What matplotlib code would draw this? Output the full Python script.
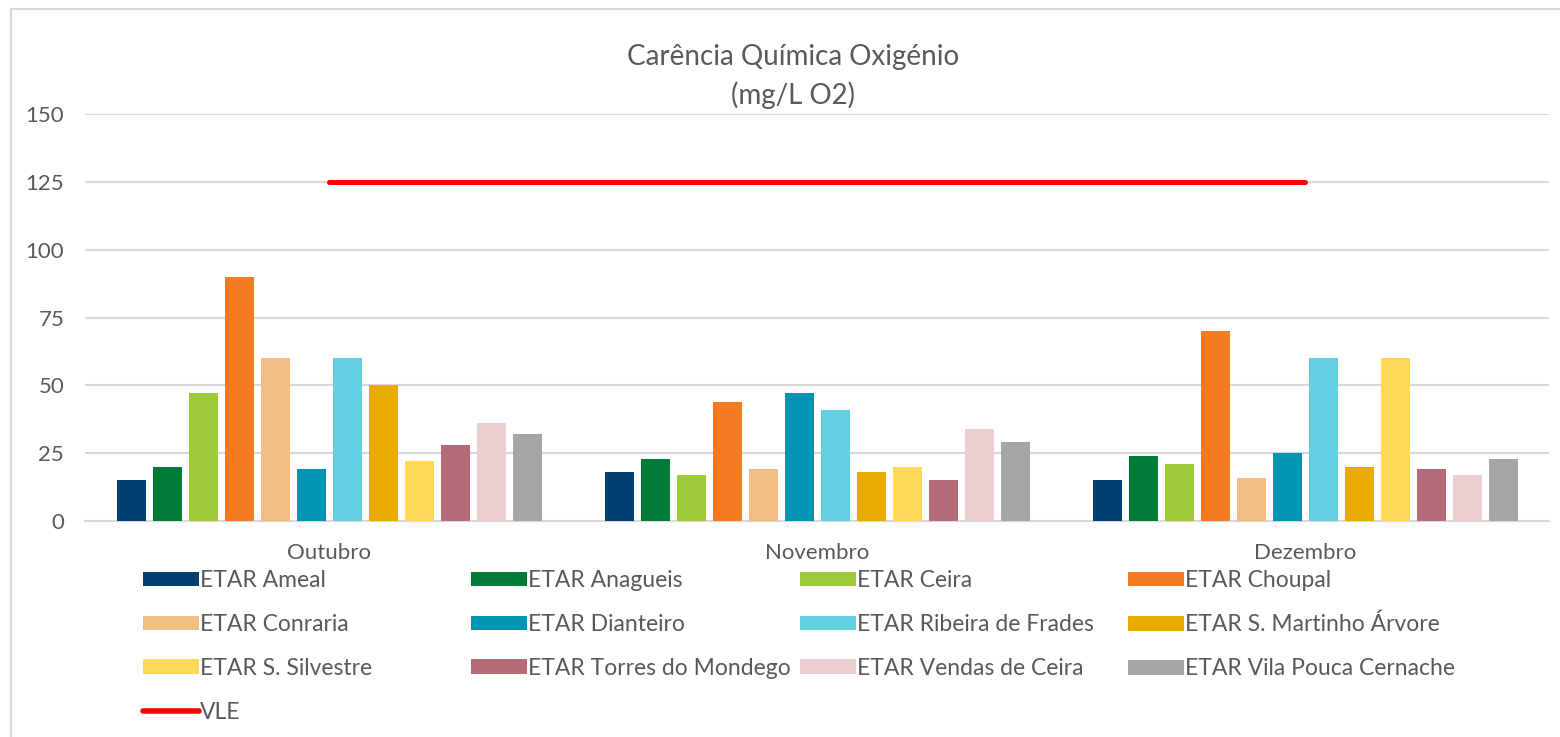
import numpy as np
import matplotlib.pyplot as plt
from matplotlib.patches import Rectangle
from matplotlib.lines import Line2D

plt.rcParams['font.family'] = ['Lato', 'DejaVu Sans']

# Data
months = ['Outubro', 'Novembro', 'Dezembro']
stations = ['ETAR Ameal', 'ETAR Anagueis', 'ETAR Ceira', 'ETAR Choupal',
            'ETAR Conraria', 'ETAR Dianteiro', 'ETAR Ribeira de Frades',
            'ETAR S. Martinho Árvore', 'ETAR S. Silvestre',
            'ETAR Torres do Mondego', 'ETAR Vendas de Ceira',
            'ETAR Vila Pouca Cernache']
outubro = [15, 20, 47, 90, 60, 19, 60, 50, 22, 28, 36, 32]
novembro = [18, 23, 17, 44, 19, 47, 41, 18, 20, 15, 34, 29]
dezembro = [15, 24, 21, 70, 16, 25, 60, 20, 60, 19, 17, 23]
vle = [125, 125, 125]
yticks = [0, 25, 50, 75, 100, 125, 150]

colors = ['#003f6e', '#007a37', '#9dc93b', '#f47b22', '#f2bd82', '#0094b4',
          '#62d0e0', '#ebaa00', '#fed856', '#b66c78', '#eccdd0', '#a6a6a6']
text_col = '#595959'
grid_col = '#d9d9d9'

W, H = 1560, 737
fig = plt.figure(figsize=(W / 100, H / 100), dpi=100)

# outer chart border
fig.patches.append(Rectangle((11 / W, -0.05), 1.2, 1 - 9 / H + 0.05,
                             transform=fig.transFigure, fill=False,
                             edgecolor=grid_col, linewidth=1.5))

ax = fig.add_axes([85 / W, 1 - 521 / H, (1549 - 85) / W, (521 - 114) / H])

values = np.array([outubro, novembro, dezembro])
x = np.arange(len(months))
step = 36 / 488
bw = 29 / 488
handles = []
for i, name in enumerate(stations):
    b = ax.bar(x + (i - 5.5) * step, values[:, i], width=bw, color=colors[i],
               label=name, zorder=3)
    handles.append(b)

ln, = ax.plot(x, vle, color='#ff0000', linewidth=3.6, solid_capstyle='round',
              zorder=4, label='VLE')

ax.set_xlim(-0.5, 2.5)
ax.set_ylim(0, 150)
ax.set_yticks(yticks)
ax.set_xticks(x)
ax.set_xticklabels(months)
ax.yaxis.grid(True, color=grid_col, linewidth=1.5, zorder=0)
ax.set_axisbelow(True)
for s in ['top', 'right', 'left']:
    ax.spines[s].set_visible(False)
ax.spines['bottom'].set_color(grid_col)
ax.spines['bottom'].set_linewidth(1.5)
ax.tick_params(axis='both', length=0, labelsize=16, labelcolor=text_col)
ax.tick_params(axis='y', pad=15)
ax.tick_params(axis='x', pad=16)

fig.text(793 / W, 1 - 57 / H, 'Carência Química Oxigénio', ha='center',
         va='center', fontsize=20, color=text_col)
fig.text(793 / W, 1 - 95 / H, '(mg/L O2)', ha='center', va='center',
         fontsize=20, color=text_col)

# legend: 4 columns laid out row by row
cols = [[0, 4, 8, 'vle'], [1, 5, 9], [2, 6, 10], [3, 7, 11]]
col_x = [143, 471, 800, 1128]
for cx, idx in zip(col_x, cols):
    hs, ls = [], []
    for k in idx:
        if k == 'vle':
            hs.append(Line2D([], [], color='#ff0000', linewidth=4,
                             solid_capstyle='round'))
            ls.append('VLE')
        else:
            hs.append(handles[k])
            ls.append(stations[k])
    fig.legend(hs, ls, loc='upper left', bbox_to_anchor=(cx / W, 1 - 570 / H),
               frameon=False, fontsize=16.5, labelcolor=text_col,
               handlelength=2.45, handleheight=0.6, handletextpad=0.05,
               labelspacing=1.0, borderpad=0, borderaxespad=0)

fig.savefig('out.png', dpi=100, facecolor='white')
